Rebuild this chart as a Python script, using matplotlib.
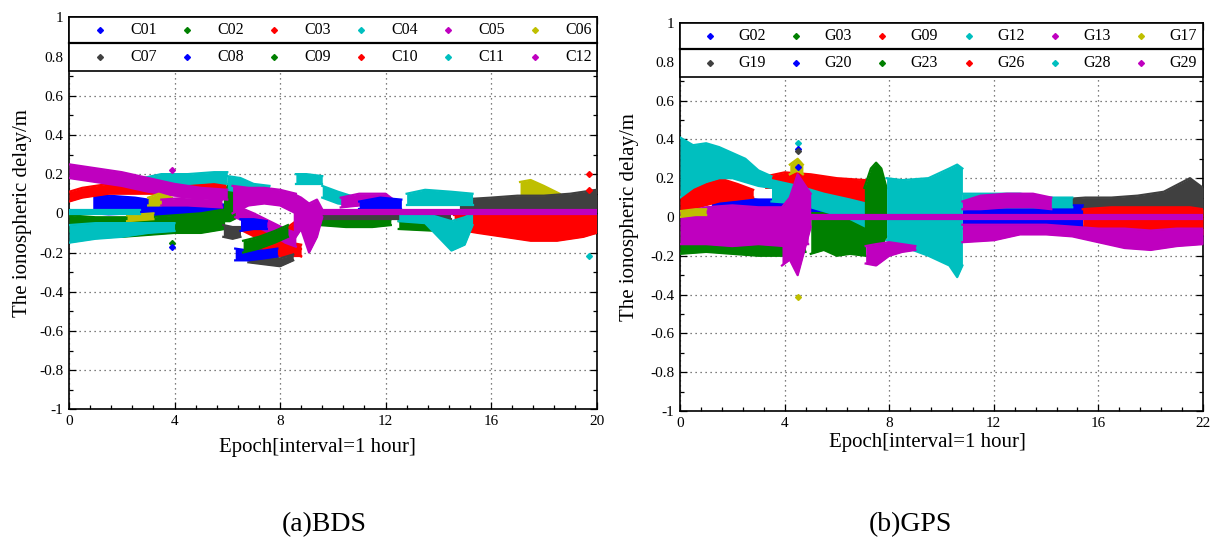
import matplotlib
matplotlib.use("Agg")
import matplotlib.pyplot as plt
from matplotlib.patches import Rectangle
from matplotlib.ticker import MultipleLocator, FixedLocator

plt.rcParams['font.family'] = ['Liberation Serif', 'DejaVu Serif']
plt.rcParams['axes.unicode_minus'] = False

# ---------------- data (bands: epoch, lower, upper) ----------------
BDS_NAMES = ['C01', 'C02', 'C03', 'C04', 'C05', 'C06', 'C07', 'C08', 'C09', 'C10', 'C11', 'C12']
GPS_NAMES = ['G02', 'G03', 'G09', 'G12', 'G13', 'G17', 'G19', 'G20', 'G23', 'G26', 'G28', 'G29']
SERIES_COLORS = ['#0000FF', '#008000', '#FF0000', '#00BFBF', '#BF00BF', '#BFBF00',
                 '#404040', '#0000FF', '#008000', '#FF0000', '#00BFBF', '#BF00BF']

BDS_XTICKS = [0, 4, 8, 12, 16, 20]
BDS_XTICKLABELS = ['0', '4', '8', '12', '16', '20']
GPS_XTICKS = [0, 4, 8, 12, 16, 20]
GPS_XTICKLABELS = ['0', '4', '8', '12', '16', '22']
Y_TICKS = [-1, -0.8, -0.6, -0.4, -0.2, 0, 0.2, 0.4, 0.6, 0.8, 1]

C01 = [([0.9, 1.5, 2.5, 3.5, 4.5, 5.5, 6.2], [0.0, -0.005, 0.0, -0.01, -0.01, -0.015, -0.02],
        [0.10, 0.09, 0.08, 0.06, 0.05, 0.05, 0.04])]
C02 = [([0, 1, 2, 3, 4, 5, 5.9], [-0.09, -0.10, -0.12, -0.11, -0.10, -0.10, -0.08],
        [-0.01, -0.02, -0.02, -0.02, -0.01, 0.0, 0.02]),
       ([5.85, 6.1, 6.4, 6.6], [-0.04, -0.04, -0.02, 0.0], [0.10, 0.16, 0.14, 0.08]),
       ([9.5, 10.5, 11.5, 12.2], [-0.06, -0.07, -0.07, -0.06], [-0.02, -0.03, -0.03, -0.03])]
C03 = [([0, 0.5, 1.5, 2.5, 3.5, 4.5, 5.5, 5.95], [0.06, 0.08, 0.10, 0.10, 0.10, 0.11, 0.12, 0.12],
        [0.11, 0.13, 0.15, 0.15, 0.15, 0.16, 0.17, 0.16]),
       ([6.6, 7.2, 7.8, 8.4, 8.8], [-0.09, -0.13, -0.17, -0.20, -0.22], [-0.03, -0.07, -0.11, -0.15, -0.16]),
       ([6.8, 7.4, 8.0, 8.6], [-0.22, -0.20, -0.16, -0.10], [-0.18, -0.14, -0.10, -0.04]),
       ([7.2, 8.0, 8.8], [-0.22, -0.22, -0.22], [-0.18, -0.18, -0.18])]
C04 = [([2.8, 3.5, 4.5, 5.5, 6.0], [0.14, 0.15, 0.15, 0.16, 0.15], [0.18, 0.20, 0.20, 0.21, 0.21]),
       ([6.0, 6.5, 7.0, 7.6], [0.12, 0.11, 0.10, 0.09], [0.19, 0.18, 0.15, 0.14]),
       ([8.6, 9.0, 9.6], [0.15, 0.15, 0.15], [0.20, 0.20, 0.19]),
       ([9.6, 10.2, 10.9], [0.08, 0.05, 0.04], [0.14, 0.11, 0.08])]
C05 = [([0, 1, 2, 3, 4, 5, 6], [0.18, 0.16, 0.14, 0.11, 0.09, 0.08, 0.07],
        [0.25, 0.23, 0.21, 0.18, 0.15, 0.13, 0.12]),
       ([6.2, 6.8, 7.4, 8.0, 8.6], [0.0, 0.04, 0.05, 0.04, 0.0], [0.14, 0.13, 0.13, 0.12, 0.10]),
       ([6.3, 7.0, 7.6, 8.2, 8.6], [-0.02, -0.06, -0.10, -0.15, -0.17], [0.04, 0.0, -0.04, -0.08, -0.10]),
       ([10.3, 11.0, 12.0, 12.3], [0.03, 0.04, 0.04, 0.03], [0.08, 0.10, 0.10, 0.07])]
C06 = [([2.2, 3.2], [-0.04, -0.03], [-0.01, 0.0]),
       ([3.0, 3.4, 3.9], [0.04, 0.04, 0.05], [0.08, 0.10, 0.08]),
       ([17.1, 17.5, 18.0, 18.6], [0.05, 0.06, 0.06, 0.05], [0.16, 0.17, 0.14, 0.10])]
C07 = [([5.85, 6.2, 6.5], [-0.12, -0.13, -0.12], [-0.06, -0.07, -0.07]),
       ([6.8, 7.4, 8.0, 8.5], [-0.25, -0.26, -0.27, -0.24], [-0.21, -0.22, -0.23, -0.21]),
       ([9.5, 12.0, 14.5], [-0.03, -0.03, -0.03], [0.0, 0.0, 0.0]),
       ([14.8, 16, 17, 18, 19, 20], [0.01, 0.01, 0.01, 0.01, 0.01, 0.02], [0.07, 0.08, 0.09, 0.09, 0.10, 0.12])]
C08 = [([6.3, 6.8, 7.4, 7.9], [-0.24, -0.24, -0.23, -0.22], [-0.18, -0.19, -0.19, -0.18]),
       ([6.5, 7.0, 7.5], [-0.09, -0.08, -0.08], [-0.03, -0.03, -0.04]),
       ([11.0, 11.8, 12.6], [0.02, 0.02, 0.02], [0.06, 0.08, 0.07])]
C09 = [([6.6, 7.2, 7.8, 8.3], [-0.20, -0.18, -0.15, -0.12], [-0.14, -0.12, -0.09, -0.06]),
       ([12.5, 14, 15.5, 16.5], [-0.08, -0.09, -0.09, -0.09], [-0.04, -0.05, -0.05, -0.05])]
C10 = [([14.6, 15.5, 16.5, 17.5, 18.5, 19.5, 20], [-0.08, -0.10, -0.12, -0.14, -0.14, -0.12, -0.10],
        [-0.01, -0.01, -0.01, -0.01, -0.01, -0.01, -0.01])]
C11 = [([0, 1, 2, 3, 4], [-0.15, -0.13, -0.12, -0.10, -0.09], [-0.06, -0.05, -0.05, -0.05, -0.05]),
       ([0, 2.7], [-0.005, -0.005], [0.015, 0.015]),
       ([12.8, 13.5, 14.5, 15.3], [0.04, 0.04, 0.04, 0.04], [0.10, 0.12, 0.11, 0.10]),
       ([12.5, 13.5, 14.0, 14.5, 15.0, 15.3], [-0.04, -0.05, -0.12, -0.19, -0.16, -0.06],
        [0.0, 0.0, -0.02, -0.04, -0.02, 0.0])]
C12 = [([3.5, 4.5, 5.8], [0.04, 0.04, 0.03], [0.07, 0.08, 0.07]),
       ([8.5, 8.8, 9.1, 9.4, 9.6], [-0.14, -0.08, -0.20, -0.12, -0.02], [0.10, 0.08, 0.05, 0.07, 0.02]),
       ([9.5, 20], [-0.003, -0.003], [0.017, 0.017])]

BDS_POINTS_X = [3.9, 3.9, 3.9, 19.7, 19.7, 19.7]
BDS_POINTS_Y = [0.22, -0.15, -0.17, 0.20, 0.12, -0.22]
BDS_POINTS_C = ['#BF00BF', '#008000', '#0000FF', '#FF0000', '#FF0000', '#00BFBF']

G02 = [([1.2, 2, 3, 4, 5, 6.0], [0.0, 0.0, 0.01, 0.0, 0.0, -0.01], [0.08, 0.10, 0.09, 0.09, 0.08, 0.06])]
G03 = [([0, 1, 2, 3, 4, 4.8], [-0.19, -0.18, -0.19, -0.20, -0.20, -0.18], [-0.08, -0.10, -0.10, -0.10, -0.10, -0.10]),
       ([5.0, 5.5, 6.0, 6.5, 7.1], [-0.19, -0.17, -0.20, -0.19, -0.20], [0.02, 0.02, 0.0, 0.0, 0.0])]
G09 = [([0, 0.7, 1.5, 2.2, 2.8], [0.03, 0.05, 0.08, 0.09, 0.10], [0.13, 0.17, 0.20, 0.17, 0.14]),
       ([3.3, 4, 5, 6, 7.1], [0.15, 0.15, 0.13, 0.10, 0.06], [0.21, 0.23, 0.22, 0.20, 0.19])]
G12 = [([0, 0.5, 1, 1.5, 2, 2.5, 3, 3.5], [0.10, 0.15, 0.18, 0.20, 0.20, 0.18, 0.16, 0.15],
        [0.41, 0.37, 0.38, 0.36, 0.33, 0.30, 0.24, 0.21]),
       ([3.5, 4.5, 5.5, 6.5, 7.1], [0.08, 0.07, 0.03, -0.01, -0.05], [0.19, 0.16, 0.12, 0.09, 0.07])]
G13 = [([0, 1, 2, 3, 4, 4.9], [-0.14, -0.14, -0.15, -0.14, -0.15, -0.14], [0.02, 0.05, 0.06, 0.05, 0.05, 0.04]),
       ([3.9, 4.2, 4.5, 4.7, 5.0], [-0.25, -0.22, -0.30, -0.20, -0.05], [0.05, 0.10, 0.22, 0.18, 0.12])]
G17 = [([0, 0.6, 1.0], [0.0, 0.01, 0.01], [0.03, 0.04, 0.04]),
       ([4.2, 4.5, 4.7], [0.22, 0.24, 0.22], [0.27, 0.30, 0.27])]
G19 = [([14.5, 15.5, 16.5, 17.5, 18.5, 19.5, 20], [0.02, 0.02, 0.02, 0.02, 0.02, 0.02, 0.02],
        [0.09, 0.10, 0.10, 0.11, 0.13, 0.20, 0.15])]
G20 = [([10.8, 12, 13, 14, 15.4], [-0.06, -0.06, -0.05, -0.05, -0.05], [0.07, 0.07, 0.06, 0.06, 0.06])]
G23 = [([7.05, 7.3, 7.5, 7.7, 7.9], [-0.12, -0.18, -0.20, -0.15, -0.10], [0.15, 0.25, 0.28, 0.25, 0.15])]
G26 = [([15.4, 16.5, 17.5, 18.5, 19.5, 20], [-0.08, -0.09, -0.09, -0.09, -0.10, -0.09],
        [0.04, 0.05, 0.05, 0.05, 0.05, 0.04])]
G28 = [([7.9, 8.5, 9.5, 10.3, 10.6, 10.8], [-0.12, -0.15, -0.20, -0.25, -0.31, -0.25], [0.20, 0.19, 0.20, 0.25, 0.27, 0.25]),
       ([10.8, 12, 13, 14, 15], [0.04, 0.05, 0.05, 0.05, 0.05], [0.12, 0.12, 0.12, 0.10, 0.10])]
G29 = [([7.1, 7.5, 8, 8.5, 9.0], [-0.24, -0.25, -0.20, -0.18, -0.17], [-0.15, -0.14, -0.13, -0.14, -0.15]),
       ([10.8, 11.5, 12.5, 13.5, 14.2], [0.04, 0.04, 0.05, 0.05, 0.04], [0.08, 0.11, 0.12, 0.12, 0.10]),
       ([10.8, 12, 13, 14, 15, 16, 17, 18, 19, 20], [-0.13, -0.12, -0.09, -0.09, -0.10, -0.13, -0.16, -0.17, -0.15, -0.14],
        [-0.04, -0.04, -0.04, -0.04, -0.05, -0.06, -0.06, -0.07, -0.06, -0.06]),
       ([5.0, 20], [-0.012, -0.012], [0.012, 0.012])]

GPS_POINTS_X = [4.5, 4.5, 4.5, 4.5, 4.5]
GPS_POINTS_Y = [0.38, 0.35, 0.34, 0.26, -0.41]
GPS_POINTS_C = ['#00BFBF', '#0000FF', '#404040', '#0000FF', '#BFBF00']

BDS_SERIES = [C01, C02, C03, C04, C05, C06, C07, C08, C09, C10, C11, C12]
GPS_SERIES = [G02, G03, G09, G12, G13, G17, G19, G20, G23, G26, G28, G29]

# ---------------- figure ----------------
fig = plt.figure(figsize=(12.11, 5.38), dpi=100)
ax1 = fig.add_axes([0.0570, 0.2392, 0.4356, 0.7286])
ax2 = fig.add_axes([0.5615, 0.2361, 0.4319, 0.7212])


def draw_panel(ax, series, names, px, py, pc, xticks, xticklabels, leg_bottom, leg_mid,
               mk_x0, txt_x0, col_dx, ylab_x, xlab_xy):
    for i, segs in enumerate(series):
        col = SERIES_COLORS[i]
        for (xs, lo, hi) in segs:
            ax.fill_between(xs, lo, hi, color=col, lw=0, zorder=3 + i * 0.01)
            ax.plot(xs, lo, color=col, lw=1.6, zorder=3 + i * 0.01)
            ax.plot(xs, hi, color=col, lw=1.6, zorder=3 + i * 0.01)
    for x, y, c in zip(px, py, pc):
        ax.plot([x], [y], marker='D', ms=3, color=c, ls='none', zorder=4)

    ax.set_xlim(0, 20)
    ax.set_ylim(-1, 1)
    ax.xaxis.set_major_locator(FixedLocator(xticks))
    ax.set_xticklabels(xticklabels)
    ax.xaxis.set_minor_locator(MultipleLocator(0.8))
    ax.yaxis.set_major_locator(FixedLocator(Y_TICKS))
    ax.set_yticklabels(['%g' % v for v in Y_TICKS])
    ax.yaxis.set_minor_locator(MultipleLocator(0.1))
    ax.tick_params(which='both', direction='in', top=True, right=True, labelsize=11, pad=4)
    ax.tick_params(which='major', length=5, width=0.9)
    ax.tick_params(which='minor', length=3, width=0.9)
    ax.grid(True, which='major', color='#555555', linestyle=(0, (1, 3)), linewidth=0.9, zorder=1)
    ax.set_axisbelow(True)
    for s in ax.spines.values():
        s.set_linewidth(1.2)

    # legend box (axes-fraction coordinates)
    ax.add_patch(Rectangle((0, leg_bottom), 1, 1 - leg_bottom, transform=ax.transAxes,
                           facecolor='white', edgecolor='black', lw=1.2, zorder=10, clip_on=False))
    ax.plot([0, 1], [leg_mid, leg_mid], transform=ax.transAxes, color='black', lw=1.6,
            zorder=11, clip_on=False)
    row_y = [(1 + leg_mid) / 2, (leg_mid + leg_bottom) / 2]
    for k, name in enumerate(names):
        r, c = divmod(k, 6)
        ax.plot([mk_x0 + c * col_dx], [row_y[r]], transform=ax.transAxes, marker='D', ms=3,
                color=SERIES_COLORS[k], ls='none', zorder=12, clip_on=False)
        ax.text(txt_x0 + c * col_dx, row_y[r], name, transform=ax.transAxes, fontsize=11.5,
                va='center', ha='left', zorder=12)

    ax.set_ylabel('The ionospheric delay/m', fontsize=15)
    ax.yaxis.set_label_coords(ylab_x, 0.5)
    ax.set_xlabel('Epoch[interval=1 hour]', fontsize=15)
    ax.xaxis.set_label_coords(*xlab_xy)


draw_panel(ax1, BDS_SERIES, BDS_NAMES, BDS_POINTS_X, BDS_POINTS_Y, BDS_POINTS_C,
           BDS_XTICKS, BDS_XTICKLABELS, 0.863, 0.9335, 0.059, 0.116, 0.165, -0.070, (0.47, -0.073))
draw_panel(ax2, GPS_SERIES, GPS_NAMES, GPS_POINTS_X, GPS_POINTS_Y, GPS_POINTS_C,
           GPS_XTICKS, GPS_XTICKLABELS, 0.8615, 0.932, 0.057, 0.111, 0.165, -0.078, (0.474, -0.057))

fig.text(0.2675, 0.024, '(a)BDS', fontsize=20, ha='center', va='center')
fig.text(0.752, 0.024, '(b)GPS', fontsize=20, ha='center', va='center')

fig.savefig('out.png', dpi=100)
